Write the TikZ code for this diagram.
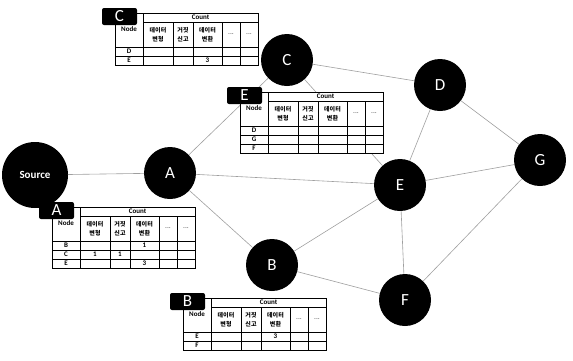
\documentclass[tikz,border=0pt]{standalone}
\usepackage{fontspec}
\setmainfont{Carlito}
\newfontfamily\kr{Noto Sans CJK KR}

% count table: #1 top left, #2 tab letter, #3 number of rows, #4 rows
\newcommand{\cntable}[4]{%
\begin{scope}[shift={#1}]
\pgfmathsetmacro\tabh{34+9*#3}
\draw[tabline,fill=white] (0,0) rectangle (143,\tabh);
\draw[tabline] (28,9) -- (143,9);
\draw[tabline,line width=0.9pt] (0,34) -- (143,34);
\draw[tabline] (28,0) -- (28,\tabh);
\foreach \x in {58,78,107,125} \draw[tabline] (\x,9) -- (\x,\tabh);
\foreach \i in {1,...,#3} \draw[tabline] (0,34+9*\i) -- (143,34+9*\i);
\node[celltext] at (85.5,4.5) {Count};
\node[celltext] at (14,16) {Node};
\node[krtext] at (43,21.5) {데이터\\변형};
\node[krtext] at (68,21.5) {거짓\\신고};
\node[krtext] at (92.5,21.5) {데이터\\변환};
\node[celltext,gray] at (116,21.5) {...};
\node[celltext,gray] at (134,21.5) {...};
\foreach \n/\a/\b/\c [count=\i] in {#4} {
  \node[celltext] at (14,29.5+9*\i) {\n};
  \node[celltext] at (43,29.5+9*\i) {\a};
  \node[celltext] at (68,29.5+9*\i) {\b};
  \node[celltext] at (92.5,29.5+9*\i) {\c};
}
\node[tab] at (4.5,3.5) {#2};
\end{scope}}

\begin{document}
\begin{tikzpicture}[x=1pt,y=-1pt,inner sep=0pt,outer sep=0pt,
vertex/.style={circle,fill=black,text=white,minimum size=52pt,font=\fontsize{17}{17}\selectfont},
link/.style={draw=gray!75,line width=0.6pt},
tabline/.style={draw=black,line width=0.5pt},
celltext/.style={font=\fontsize{7}{7}\selectfont\bfseries},
krtext/.style={font=\kr\fontsize{6}{9}\selectfont\bfseries,align=center},
tab/.style={rectangle,rounded corners=2pt,fill=black,text=white,minimum width=35pt,minimum height=17pt,font=\fontsize{17}{17}\selectfont}]
\useasboundingbox (0,0) rectangle (573,360);
\draw (35,175) node[vertex,minimum size=66pt,font=\fontsize{11}{11}\selectfont\bfseries] (src) {Source};
\draw (170,173) node[vertex] (A) {A};
\draw (287,60) node[vertex] (C) {C};
\draw (440,85) node[vertex] (D) {D};
\draw (400,185) node[vertex] (E) {E};
\draw (540,160) node[vertex] (G) {G};
\draw (272,265) node[vertex] (B) {B};
\draw (405,300) node[vertex] (F) {F};
\draw[link] (src) -- (A);
\draw[link] (A) -- (C);
\draw[link] (A) -- (E);
\draw[link] (A) -- (B);
\draw[link] (C) -- (D);
\draw[link] (C) -- (E);
\draw[link] (D) -- (E);
\draw[link] (D) -- (G);
\draw[link] (E) -- (G);
\draw[link] (E) -- (B);
\draw[link] (E) -- (F);
\draw[link] (B) -- (F);
\draw[link] (F) -- (G);
% tables
\cntable{(115,13)}{C}{2}{D/{}/{}/{}, E/{}/{}/3}
\cntable{(240,92)}{E}{3}{D/{}/{}/{}, G/{}/{}/{}, F/{}/{}/{}}
\cntable{(52,207)}{A}{3}{B/{}/{}/1, C/1/1/{}, E/{}/{}/3}
\cntable{(183,298)}{B}{2}{E/{}/{}/3, F/{}/{}/{}}
\end{tikzpicture}
\end{document}
